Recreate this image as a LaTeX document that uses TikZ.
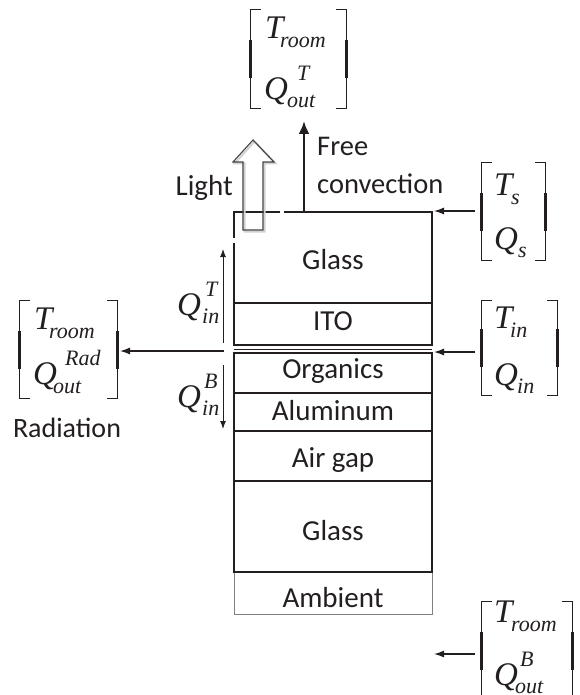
\documentclass[tikz,border=0pt]{standalone}
\usepackage{fontspec}
\setmainfont{Carlito}
\newfontfamily\mfont{Liberation Serif}
\usetikzlibrary{arrows.meta}
\definecolor{ink}{HTML}{231F20}
% #1 main letter, #2 sub shift, #3 sub, #4 sup shift, #5 sup, #6 sub drop
\newcommand\ent[6]{{\mfont\itshape
  \rlap{\fontsize{33}{33}\selectfont #1}%
  \rlap{\hspace*{#4}\raisebox{19pt}{\fontsize{22}{22}\selectfont #5}}%
  \hspace*{#2}\raisebox{-#6}{\fontsize{22}{22}\selectfont #3}}}
\newcommand\brk[1]{%
  \draw[brkline] ([xshift=10pt]#1.north west) -- (#1.north west) -- (#1.south west) -- ([xshift=10pt]#1.south west);
  \draw[brkline] ([xshift=-10pt]#1.north east) -- (#1.north east) -- (#1.south east) -- ([xshift=-10pt]#1.south east);
  \draw[brkthick] ([yshift=-19pt]#1.west) -- ([yshift=19pt]#1.west);
  \draw[brkthick] ([yshift=-19pt]#1.east) -- ([yshift=19pt]#1.east);}
\begin{document}
\begin{tikzpicture}[x=1pt,y=-1pt,
  layer/.style={draw=ink, line width=2.8pt, minimum width=198pt, inner sep=0pt},
  lbl/.style={font=\fontsize{29}{29}\selectfont, text=ink, anchor=base, inner sep=0pt},
  entry/.style={anchor=base west, inner sep=0pt, text=ink},
  frame/.style={draw=none, inner sep=0pt},
  brkline/.style={draw=ink, line width=1.1pt},
  brkthick/.style={draw=ink, line width=3pt},
  arr/.style={draw=ink, line width=1.3pt, -{Latex[length=10pt,width=7pt]}},
  varr/.style={draw=ink, line width=1pt, -{Latex[length=8pt,width=6pt]}},
  bigarr/.style={draw=ink, line width=2.8pt, -{Latex[length=13pt,width=11pt]}}]
\useasboundingbox (0,0) rectangle (580,695);

% ---- stack ----
\node[draw=gray, line width=1pt, minimum width=198pt, minimum height=42pt, inner sep=0pt] (amb) at (333,593) {};
\node[layer, minimum height=91pt] (gT) at (333,257.5) {};
\node[layer, minimum height=42pt] (ito) at (333,324) {};
\node[layer, minimum height=40pt] (org) at (333,373) {};
\node[layer, minimum height=38pt] (alu) at (333,412) {};
\node[layer, minimum height=50pt] (air) at (333,456) {};
\node[layer, minimum height=91pt] (gB) at (333,526.5) {};
\draw[ink, line width=1.2pt] (234,349.5) -- (432,349.5);

\node[lbl] (lg1) at (333,269) {Glass};
\node[lbl] (lito) at (333,330) {ITO};
\node[lbl] (lorg) at (333,378) {Organics};
\node[lbl] (lalu) at (333,420) {Aluminum};
\node[lbl] (lair) at (333,467) {Air gap};
\node[lbl] (lg2) at (333,540) {Glass};
\node[lbl] (lamb) at (333,607) {Ambient};

% small white gaps in the frame
\fill[white] (279.5,209) rectangle (283.5,215.5);
\fill[white] (230.5,238) rectangle (237.5,242.5);

% ---- light arrow ----
\draw[gray!35, line width=2pt, line join=miter, shift={(1.5,1.5)}]
  (243,230) -- (243,162) -- (233,162) -- (253,140) -- (274,162) -- (263,162) -- (263,230) -- cycle;
\draw[ink!85, line width=1.1pt, line join=miter]
  (243,230) -- (243,162) -- (233,162) -- (253,140) -- (274,162) -- (263,162) -- (263,230) -- cycle;
\node[lbl, anchor=base east] (light) at (233,195) {Light};

% ---- free convection ----
\coordinate (fc0) at (304,212);
\coordinate (fc1) at (304,121);
\draw[bigarr] (fc0) -- (fc1);
\node[lbl, anchor=base west, font=\fontsize{28.5}{28.5}\selectfont] (free) at (317,156) {Free};
\node[lbl, anchor=base west, font=\fontsize{28.5}{28.5}\selectfont] (conv) at (317,193) {convection};

% ---- matrices ----
\node[frame, minimum width=95pt, minimum height=98pt] (mTop) at (298.5,59) {};
\brk{mTop}
\node[entry] (tTop) at (265,39) {\ent{T}{15pt}{room}{0pt}{}{9pt}};
\node[entry] (qTop) at (264,100) {\ent{Q}{23pt}{out}{33pt}{T}{8pt}};

\node[frame, minimum width=97pt, minimum height=97pt] (mL) at (68.5,349.5) {};
\brk{mL}
\node[entry] (tL) at (34,329) {\ent{T}{15pt}{room}{0pt}{}{9pt}};
\node[entry] (qL) at (33,384) {\ent{Q}{20pt}{out}{32pt}{Rad}{9pt}};
\node[lbl, font=\fontsize{28}{28}\selectfont] (rad) at (67,437) {Radiation};

\node[frame, minimum width=63pt, minimum height=97pt] (mTs) at (513.5,211.5) {};
\brk{mTs}
\node[entry] (tS) at (494,195) {\ent{T}{17pt}{s}{0pt}{}{9pt}};
\node[entry] (qS) at (494,249) {\ent{Q}{24pt}{s}{0pt}{}{8pt}};

\node[frame, minimum width=75pt, minimum height=94pt] (mTin) at (519.5,348) {};
\brk{mTin}
\node[entry] (tIn) at (494,328) {\ent{T}{16pt}{in}{0pt}{}{9pt}};
\node[entry] (qIn) at (494,385) {\ent{Q}{23pt}{in}{0pt}{}{8pt}};

\node[frame, minimum width=90pt, minimum height=98pt] (mB) at (527,651) {};
\brk{mB}
\node[entry] (tB) at (494,622) {\ent{T}{17pt}{room}{0pt}{}{9pt}};
\node[entry] (qB) at (494,685) {\ent{Q}{21pt}{out}{26pt}{B}{8pt}};

% ---- Q_in labels ----
\node[entry] (qinT) at (177,315) {\ent{Q}{25pt}{in}{28pt}{T}{8pt}};
\node[entry] (qinB) at (177,407) {\ent{Q}{25pt}{in}{27pt}{B}{8pt}};
\coordinate (uA) at (223,343);
\coordinate (uB) at (223,249);
\coordinate (dA) at (223,365);
\coordinate (dB) at (223,429);
\draw[varr] (uA) -- (uB);
\draw[varr] (dA) -- (dB);

% ---- side arrows ----
\coordinate (radS) at (224,351);
\coordinate (radE) at (120,351);
\draw[arr] (radS) -- (radE);
\coordinate (tsS) at (475,211);
\coordinate (tsE) at (434,211);
\draw[arr] (tsS) -- (tsE);
\coordinate (tinS) at (475,352);
\coordinate (tinE) at (434,352);
\draw[arr] (tinS) -- (tinE);
\coordinate (bS) at (475,654);
\coordinate (bE) at (434,654);
\draw[arr] (bS) -- (bE);
\end{tikzpicture}
\end{document}
